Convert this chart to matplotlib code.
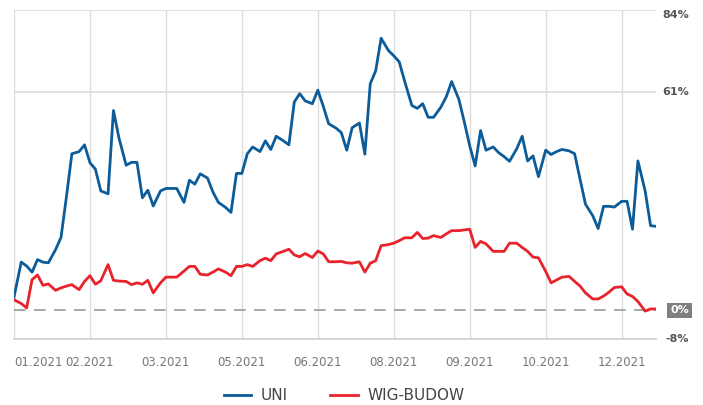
import matplotlib
matplotlib.use("Agg")
import matplotlib.pyplot as plt
import matplotlib.transforms as mtransforms

# day offsets from 2021-01-04
days = [0, 4, 7, 10, 13, 16, 19, 23, 26, 29, 32, 36, 39, 42, 45, 48, 52, 55, 58, 62,
        65, 68, 71, 74, 77, 81, 84, 87, 90, 94, 97, 100, 103, 107, 110, 113, 117, 120, 123, 126,
        129, 132, 136, 139, 142, 145, 149, 152, 155, 158, 161, 165, 168, 171, 174, 178, 181, 184, 187, 191,
        194, 197, 200, 203, 207, 210, 213, 216, 220, 223, 226, 229, 232, 236, 239, 242, 246, 249, 252, 255,
        258, 261, 265, 268, 271, 274, 278, 281, 284, 287, 290, 294, 297, 300, 303, 307, 310, 313, 316, 320,
        323, 326, 329, 332, 336, 339, 342, 345, 349, 352, 355]

uni = [3.7, 13.5, 12.4, 10.7, 14.2, 13.5, 13.3, 17.0, 20.4, 31.8, 43.8, 44.4, 46.3, 41.3, 39.5, 33.4, 32.6, 55.9, 48.3, 40.6,
       41.4, 41.4, 31.5, 33.6, 29.2, 33.4, 34.1, 34.1, 34.1, 30.2, 36.4, 35.3, 38.2, 37.0, 33.1, 30.2, 28.8, 27.4, 38.3, 38.3,
       43.8, 45.7, 44.4, 47.4, 45.0, 48.7, 47.4, 46.3, 58.3, 60.6, 58.6, 57.8, 61.6, 57.1, 52.2, 51.0, 49.7, 44.8, 51.1, 52.4,
       43.7, 63.4, 67.0, 76.1, 72.7, 71.2, 69.5, 64.1, 57.3, 56.5, 57.8, 54.0, 54.0, 56.8, 59.7, 64.0, 59.0, 52.7, 46.0, 40.4,
       50.3, 44.8, 45.7, 44.1, 43.0, 41.7, 45.2, 48.7, 41.8, 43.2, 37.4, 44.8, 43.6, 44.4, 45.0, 44.6, 43.8, 36.7, 29.7, 26.5,
       22.9, 29.1, 29.1, 28.9, 30.5, 30.5, 22.7, 41.8, 33.4, 23.7, 23.5]

wig_budow = [3.0, 1.9, 0.7, 8.6, 9.9, 7.0, 7.4, 5.6, 6.3, 6.8, 7.2, 5.8, 8.1, 9.7, 7.3, 8.3, 12.8, 8.4, 8.2, 8.1,
             7.2, 7.7, 7.3, 8.4, 4.9, 7.7, 9.3, 9.3, 9.3, 11.0, 12.3, 12.3, 10.1, 9.9, 10.7, 11.6, 10.7, 9.7, 12.3, 12.3,
             12.8, 12.3, 13.9, 14.6, 13.9, 15.8, 16.5, 17.1, 15.5, 15.0, 15.9, 14.8, 16.6, 15.8, 13.6, 13.6, 13.7, 13.3, 13.2, 13.6,
             10.7, 13.2, 13.9, 18.1, 18.4, 18.8, 19.5, 20.3, 20.3, 21.8, 20.1, 20.2, 20.9, 20.4, 21.4, 22.3, 22.3, 22.5, 22.7, 17.6,
             19.3, 18.6, 16.5, 16.5, 16.5, 18.8, 18.8, 17.6, 16.5, 14.9, 14.7, 10.9, 7.7, 8.5, 9.3, 9.5, 8.1, 6.8, 4.9, 3.2,
             3.2, 4.0, 5.1, 6.4, 6.6, 4.6, 3.9, 2.5, -0.2, 0.4, 0.4]

xtick_days = [0, 42, 84, 126, 168, 210, 252, 294, 336]
xtick_labels = ["01.2021", "02.2021", "03.2021", "05.2021", "06.2021",
                "08.2021", "09.2021", "10.2021", "12.2021"]
ytick_vals = [84, 61, 0, -8]
ytick_labels = ["84%", "61%", "0%", "-8%"]

plt.rcParams['font.family'] = ['DejaVu Sans']

fig = plt.figure(figsize=(7.03, 4.05), dpi=100)
ax = fig.add_axes([14/703, 1 - 339/405, (656 - 14)/703, (339 - 10)/405])

ax.set_xlim(0, 355)
ax.set_ylim(-8, 84)

grid_c = "#dcdcdc"
for d in xtick_days:
    ax.axvline(d, color=grid_c, lw=1.0, zorder=1)
for v in (84, 61):
    ax.axhline(v, color=grid_c, lw=1.2, zorder=1)
ax.axhline(0, color="#9a9a9a", lw=1.2, dashes=(7, 5), zorder=2)

ax.plot(days, uni, color="#0b5c99", lw=2.0, label="UNI", zorder=3, solid_joinstyle="round")
ax.plot(days, wig_budow, color="#e8232b", lw=2.0, label="WIG-BUDOW", zorder=3, solid_joinstyle="round")

for s in ("top", "right", "left"):
    ax.spines[s].set_visible(False)
ax.spines["bottom"].set_color("#d0d0d0")
ax.spines["bottom"].set_linewidth(1.2)

ax.set_xticks(xtick_days)
ax.set_xticklabels(xtick_labels, color="#777777", fontsize=8.5)
ax.tick_params(axis="x", length=0, pad=12)
xl = ax.get_xticklabels()
xl[0].set_horizontalalignment("left")
ax.set_yticks([])

trans = mtransforms.blended_transform_factory(ax.transAxes, ax.transData)
for v, lab in zip(ytick_vals, ytick_labels):
    off = -5 if v == 84 else 0
    t = ax.text(1.0, v, lab, transform=trans + mtransforms.ScaledTranslation(33/100, off/100, fig.dpi_scale_trans),
                ha="right", va="center", fontsize=8, fontweight="bold", color="#555555")
    if v == 0:
        t.set_color("white")
        t.set_bbox(dict(boxstyle="square,pad=0.25", fc="#7f7f7f", ec="none"))

leg = fig.legend(loc="center", bbox_to_anchor=(344/703, 1 - 396/405), ncol=2, frameon=False,
                 fontsize=11, handlelength=1.8, columnspacing=2.8, handletextpad=0.6)
for t in leg.get_texts():
    t.set_color("#444444")
for h in leg.get_lines():
    h.set_linewidth(2.0)

fig.savefig("out.png", dpi=100)
